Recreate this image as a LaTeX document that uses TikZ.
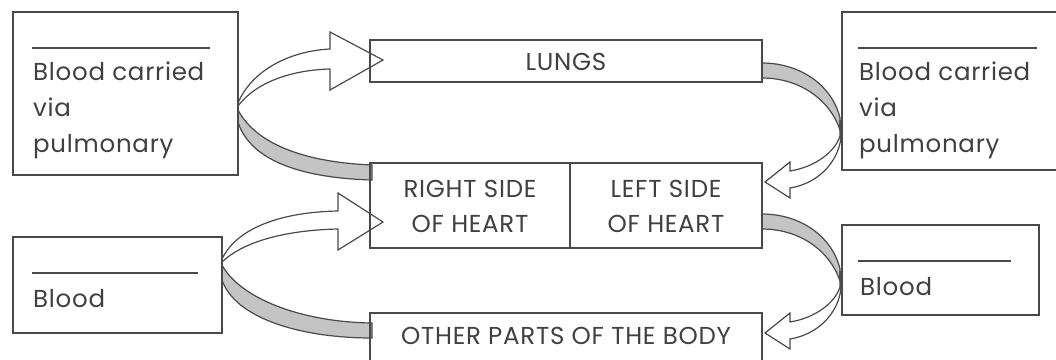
\documentclass[tikz,border=0pt]{standalone}
\usepackage{fontspec}
\setmainfont{Poppins}[LetterSpace=3]
\definecolor{lc}{HTML}{4A4A4A}
\definecolor{tc}{HTML}{404040}
\definecolor{bandfill}{HTML}{C4C4C4}
\begin{document}
\begin{tikzpicture}[x=1pt,y=-1pt,
  box/.style={draw=lc, line width=1.6pt, inner sep=0pt},
  txt/.style={text=tc, inner sep=0pt, font=\fontsize{24.5}{36}\selectfont},
  blank/.style={draw=lc, line width=1.3pt},
  arrw/.style={draw=lc, fill=white, line width=1.2pt, line join=miter},
  band/.style={draw=lc, fill=bandfill, line width=1.2pt}]
\useasboundingbox (0,0) rectangle (1056,359);
% ---------- curved arrows (drawn first) ----------
% top left
\coordinate (tlo) at (238,106);
\filldraw[arrw] (238,103) .. controls (252,70) and (290,51) .. (330,49) -- (330,32) -- (383,60) -- (330,90) -- (330,69) .. controls (292,70) and (256,82) .. (tlo) -- cycle;
\filldraw[band] (238,110) .. controls (255,142) and (300,162) .. (372,165) -- (372,180) .. controls (300,178) and (250,160) .. (238,122) -- cycle;
% bottom left
\coordinate (blo) at (222,262);
\filldraw[arrw] (222,259) .. controls (238,226) and (285,212) .. (338,211) -- (338,193) -- (383,222) -- (338,250) -- (338,229) .. controls (290,230) and (245,240) .. (blo) -- cycle;
\filldraw[band] (222,265) .. controls (240,298) and (300,322) .. (372,323) -- (372,338) .. controls (300,338) and (235,318) .. (222,280) -- cycle;
% top right and bottom right
\foreach \dy in {0,151}{
  \begin{scope}[yshift=-\dy pt]
    \filldraw[band] (762,63) .. controls (800,63) and (832,85) .. (840,118) -- (840,130) .. controls (830,100) and (800,78) .. (762,78) -- cycle;
    \filldraw[arrw] (840,120) .. controls (847,150) and (826,182) .. (790,188) -- (790,198) -- (765,182) -- (790,162) -- (790,171) .. controls (815,167) and (835,152) .. (840,136) -- cycle;
  \end{scope}
}
% ---------- boxes ----------
\node[box, minimum width=225pt, minimum height=163pt] (tl) at (125.5,93.5) {};
\node[box, minimum width=228pt, minimum height=158pt] (tr) at (956,91) {};
\node[box, minimum width=209pt, minimum height=96pt] (bl) at (117.5,285) {};
\node[box, minimum width=197pt, minimum height=90pt] (br) at (940.5,270) {};
\node[box, minimum width=392pt, minimum height=42pt] (lungs) at (566,61) {};
\node[box, minimum width=392pt, minimum height=85pt] (heart) at (566,205.5) {};
\node[box, minimum width=392pt, minimum height=60pt] (other) at (566,343) {};
\draw[box] (heart.north) ++(4,0) coordinate (hd1) -- (hd1 |- heart.south);
% ---------- texts ----------
\node[txt] (lungst) at (566,62) {LUNGS};
\node[txt, anchor=base] (rs1) at (470,197) {RIGHT SIDE};
\node[txt, anchor=base] (rs2) at (470,232) {OF HEART};
\node[txt, anchor=base] (ls1) at (666,197) {LEFT SIDE};
\node[txt, anchor=base] (ls2) at (666,232) {OF HEART};
\node[txt, anchor=base] (ot) at (566,344) {OTHER PARTS OF THE BODY};
% top-left box
\draw[blank] (32,48) coordinate (tlb1) -- (210,48) coordinate (tlb2);
\node[txt, anchor=base west] (tl1) at (33,80) {Blood carried};
\node[txt, anchor=base west] (tl2) at (33,116) {via};
\node[txt, anchor=base west] (tl3) at (33,152) {pulmonary};
% top-right box
\draw[blank] (858,48) coordinate (trb1) -- (1037,48) coordinate (trb2);
\node[txt, anchor=base west] (tr1) at (859,80) {Blood carried};
\node[txt, anchor=base west] (tr2) at (859,116) {via};
\node[txt, anchor=base west] (tr3) at (859,152) {pulmonary};
% bottom boxes
\draw[blank] (32,273) coordinate (blb1) -- (198,273) coordinate (blb2);
\node[txt, anchor=base west] (bl1) at (33,307) {Blood};
\draw[blank] (858,261) coordinate (brb1) -- (1011,261) coordinate (brb2);
\node[txt, anchor=base west] (br1) at (860,295) {Blood};
\end{tikzpicture}
\end{document}
